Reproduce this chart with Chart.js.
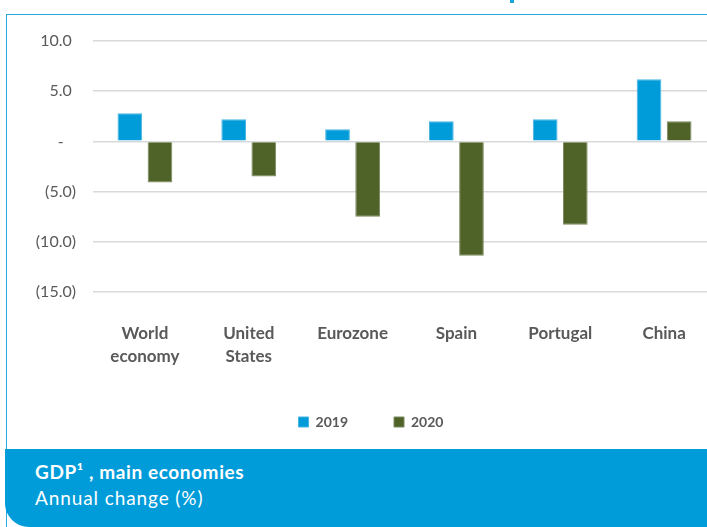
<!DOCTYPE html>
<html>
<head>
<meta charset="utf-8">
<script src="https://cdn.jsdelivr.net/npm/chart.js@4.4.1/dist/chart.umd.min.js"></script>
<style>
  html, body { margin: 0; padding: 0; background: #fff; overflow: hidden; width: 707px; height: 527px; }
  #wrap { position: relative; width: 707px; height: 527px; overflow: hidden; }
  #frame { position: absolute; left: 6px; top: 14px; right: -10px; bottom: 0; border-top: 1.5px solid #2aa7dd; border-left: 1.5px solid #2aa7dd; }
  #mark { position: absolute; left: 510px; top: 0; width: 4px; height: 3px; background: #1ba1db; }
  #gdp { position: absolute; left: 0; top: 0; }
  #banner { position: absolute; left: 5px; top: 449px; right: 0; bottom: 0; background: #009bd9; border-bottom-left-radius: 24px; color: #fff; font-family: Lato, sans-serif; }
  #banner .t1 { position: absolute; left: 30px; top: 10px; font-size: 19px; font-weight: bold; line-height: 25.7px; letter-spacing: 0.6px; white-space: nowrap; }
  #banner .t2 { position: absolute; left: 30px; top: 35.7px; font-size: 19px; line-height: 25.7px; letter-spacing: 0.9px; white-space: nowrap; }
</style>
</head>
<body>
<div id="wrap">
  <div id="frame"></div>
  <div id="mark"></div>
  <canvas id="gdp" width="716" height="439"></canvas>
  <div id="banner">
    <div class="t1">GDP¹ , main economies</div>
    <div class="t2">Annual change (%)</div>
  </div>
</div>
<script>
const categories = [["World", "economy"], ["United", "States"], "Eurozone", "Spain", "Portugal", "China"];
const gdp2019 = [2.8, 2.2, 1.2, 2.0, 2.2, 6.2];
const gdp2020 = [-4.1, -3.5, -7.5, -11.4, -8.3, 2.0];
const yTicks = [-15, -10, -5, 0, 5, 10];
const yTickLabels = ["(15.0)", "(10.0)", "(5.0)", "-", "5.0", "10.0"];

const grey = '#595959';

new Chart(document.getElementById('gdp'), {
  type: 'bar',
  data: {
    labels: categories,
    datasets: [
      {
        label: '2019',
        data: gdp2019,
        backgroundColor: '#009bd9',
        borderColor: '#45b4e2',
        borderWidth: 1
      },
      {
        label: '2020',
        data: gdp2020,
        backgroundColor: '#4f6228',
        borderColor: '#7b8a5e',
        borderWidth: 1
      }
    ]
  },
  options: {
    responsive: false,
    animation: false,
    categoryPercentage: 0.58,
    barPercentage: 0.82,
    layout: { padding: { left: 26, top: 41, right: 0, bottom: 0 } },
    plugins: {
      tooltip: { enabled: false },
      legend: {
        position: 'bottom',
        labels: {
          boxWidth: 10,
          boxHeight: 10,
          padding: 46,
          color: grey,
          font: { family: 'Lato', size: 14, weight: 'bold' }
        }
      }
    },
    scales: {
      x: {
        grid: { display: false, drawTicks: false },
        border: { display: false },
        ticks: {
          padding: 30,
          color: grey,
          font: { family: 'Lato', size: 17, weight: 'bold', lineHeight: 1.37 }
        },
        afterFit(scale) { scale.height = 77; }
      },
      y: {
        min: -15,
        max: 10,
        grid: { color: '#d9d9d9', lineWidth: 1.6, drawTicks: false },
        border: { display: false },
        afterBuildTicks(scale) { scale.ticks = yTicks.map(v => ({ value: v })); },
        ticks: {
          padding: 17,
          color: grey,
          font: { family: 'Lato', size: 16 },
          callback(value) {
            const s = yTickLabels[yTicks.indexOf(value)];
            if (s === '-') return s + '   ';
            return s.startsWith('(') ? s : s + ' ';
          }
        },
        afterFit(scale) { scale.width = 67; }
      }
    }
  }
});
</script>
</body>
</html>
